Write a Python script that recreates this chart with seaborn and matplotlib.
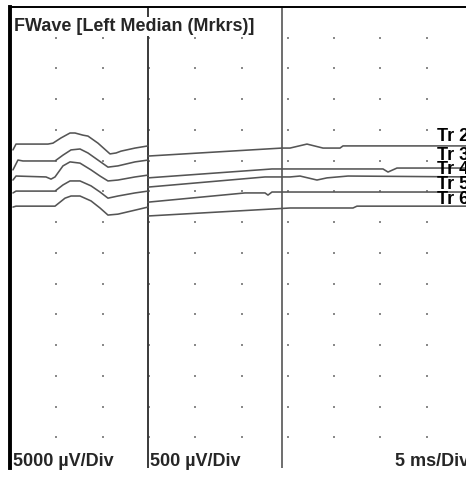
import numpy as np
import pandas as pd
import matplotlib
matplotlib.use("Agg")
import matplotlib.pyplot as plt
import seaborn as sns

# ---- data (time in ms, amplitude position in divisions from top) ----
trace_names = ["Tr 2", "Tr 3", "Tr 4", "Tr 5", "Tr 6"]

# left segment (5000 µV/Div), 0 - 14.9 ms
tr2_left_t = [0.32, 0.65, 4.10, 4.64, 5.51, 6.48, 7.02, 7.88, 8.42, 9.50, 10.80, 11.45, 11.99, 13.50, 14.90]
tr2_left_y = [4.65, 4.46, 4.46, 4.43, 4.26, 4.10, 4.10, 4.17, 4.20, 4.43, 4.78, 4.75, 4.69, 4.59, 4.52]
tr3_left_t = [0.32, 0.86, 1.40, 4.86, 5.72, 6.59, 7.56, 8.42, 9.50, 10.58, 11.66, 13.50, 14.90]
tr3_left_y = [5.30, 4.98, 5.01, 5.01, 4.82, 4.65, 4.62, 4.75, 4.98, 5.21, 5.17, 5.04, 4.98]
tr4_left_t = [0.32, 0.65, 3.89, 4.43, 4.86, 5.72, 6.48, 7.56, 8.75, 9.72, 10.58, 11.66, 13.50, 14.90]
tr4_left_y = [5.63, 5.50, 5.53, 5.60, 5.53, 5.17, 5.04, 5.08, 5.30, 5.50, 5.66, 5.63, 5.53, 5.47]
tr5_left_t = [0.32, 0.65, 4.86, 5.72, 6.48, 7.56, 8.75, 9.72, 10.58, 11.66, 13.50, 14.90]
tr5_left_y = [6.05, 5.99, 5.99, 5.79, 5.66, 5.66, 5.82, 6.02, 6.22, 6.15, 6.05, 5.99]
tr6_left_t = [0.32, 0.65, 4.86, 5.94, 6.59, 7.56, 8.75, 9.72, 10.58, 11.66, 13.50, 14.90]
tr6_left_y = [6.51, 6.48, 6.48, 6.22, 6.15, 6.15, 6.31, 6.54, 6.77, 6.74, 6.61, 6.51]

# right segment (500 µV/Div), 14.9 - 50 ms
tr2_right_t = [14.9, 29.37, 30.24, 32.07, 33.80, 35.64, 35.96, 50.0]
tr2_right_y = [4.85, 4.59, 4.59, 4.46, 4.59, 4.59, 4.52, 4.52]
tr3_right_t = [14.9, 28.29, 30.78, 40.28, 40.82, 41.79, 50.0]
tr3_right_y = [5.56, 5.27, 5.27, 5.27, 5.37, 5.24, 5.24]
tr4_right_t = [14.9, 27.54, 30.24, 31.32, 33.15, 34.23, 36.50, 50.0]
tr4_right_y = [5.86, 5.53, 5.53, 5.50, 5.63, 5.56, 5.50, 5.53]
tr5_right_t = [14.9, 25.38, 27.54, 27.86, 28.29, 30.24, 50.0]
tr5_right_y = [6.35, 6.05, 6.05, 6.12, 6.02, 6.02, 6.02]
tr6_right_t = [14.9, 30.24, 37.04, 37.47, 50.0]
tr6_right_y = [6.80, 6.54, 6.54, 6.48, 6.48]

label_y = [4.36, 4.98, 5.43, 5.92, 6.41]
label_x = 46.1

marker_times = [14.9, 29.37]
title_text = "FWave [Left Median (Mrkrs)]"
sens_labels = ["5000 µV/Div", "500 µV/Div"]
sens_x = [0.3, 15.1]
sweep_label = "5 ms/Div"
sweep_x = 41.6

x_div = 5      # ms per division
n_xdiv = 10
n_ydiv = 15

# ---- build long-form table ----
segs = [
    ("Tr 2", "L", tr2_left_t, tr2_left_y), ("Tr 2", "R", tr2_right_t, tr2_right_y),
    ("Tr 3", "L", tr3_left_t, tr3_left_y), ("Tr 3", "R", tr3_right_t, tr3_right_y),
    ("Tr 4", "L", tr4_left_t, tr4_left_y), ("Tr 4", "R", tr4_right_t, tr4_right_y),
    ("Tr 5", "L", tr5_left_t, tr5_left_y), ("Tr 5", "R", tr5_right_t, tr5_right_y),
    ("Tr 6", "L", tr6_left_t, tr6_left_y), ("Tr 6", "R", tr6_right_t, tr6_right_y),
]
rows = []
for name, seg, ts, ys in segs:
    for t, y in zip(ts, ys):
        rows.append({"t": t, "y": y, "trace": name, "unit": f"{name}-{seg}"})
df = pd.DataFrame(rows)

sns.set_style("white")
plt.rcParams["font.family"] = ["Liberation Sans", "DejaVu Sans"]

fig = plt.figure(figsize=(4.66, 4.78), dpi=100)
ax = fig.add_axes([10 / 466, 10 / 478, 463 / 466, 461 / 478])
ax.set_xlim(0, x_div * n_xdiv)
ax.set_ylim(n_ydiv, 0)

# grid dots
gx, gy = np.meshgrid(np.arange(x_div, x_div * n_xdiv, x_div), np.arange(1, n_ydiv))
ax.scatter(gx.ravel(), gy.ravel(), s=3, marker="s", color="#8a8a8a", linewidths=0, zorder=1)

# marker lines
ax.axvline(marker_times[0], color="#3a3a3a", lw=1.4, zorder=2)
ax.axvline(marker_times[1], color="#6e6e6e", lw=1.4, zorder=2)

sns.lineplot(data=df, x="t", y="y", units="unit", estimator=None, sort=False,
             color="#555555", linewidth=1.15, ax=ax, zorder=3, legend=False)

fs = 13
for name, ly in zip(trace_names, label_y):
    ax.text(label_x, ly, name, fontsize=fs, fontweight="bold", ha="left", va="baseline",
            color="black", zorder=5, clip_on=False)

ax.text(0.4, 0.78, title_text, fontsize=fs, fontweight="bold", ha="left", va="baseline",
        zorder=6, bbox=dict(facecolor="white", edgecolor="none", pad=0.5))
for s, sx in zip(sens_labels, sens_x):
    ax.text(sx, 14.94, s, fontsize=fs, fontweight="bold", ha="left", va="baseline", zorder=6)
ax.text(sweep_x, 14.94, sweep_label, fontsize=fs, fontweight="bold", ha="left", va="baseline", zorder=6)

for side in ["right", "bottom"]:
    ax.spines[side].set_visible(False)
ax.spines["left"].set_linewidth(2.8)
ax.spines["left"].set_color("black")
ax.spines["top"].set_linewidth(1.4)
ax.spines["top"].set_color("black")
ax.set_xticks([])
ax.set_yticks([])
ax.set_xlabel("")
ax.set_ylabel("")
ax.patch.set_alpha(0)

fig.savefig("out.png", dpi=100, facecolor="white")
